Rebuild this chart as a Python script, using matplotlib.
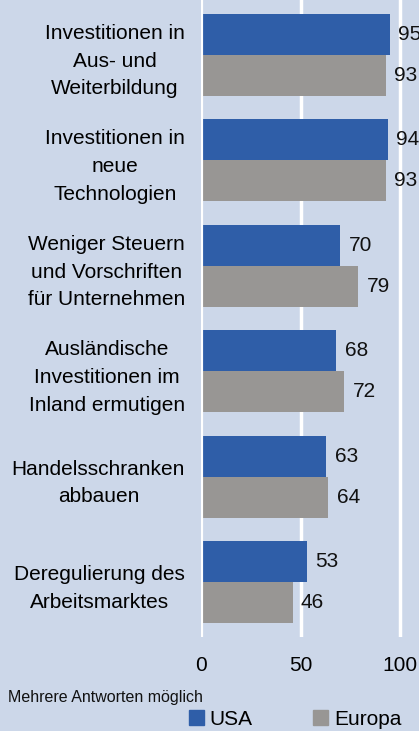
import matplotlib
matplotlib.use("Agg")
import matplotlib.pyplot as plt
from matplotlib.patches import Patch
import numpy as np

categories = [
    "Investitionen in\nAus- und\nWeiterbildung",
    "Investitionen in\nneue\nTechnologien",
    "Weniger Steuern\nund Vorschriften\nfür Unternehmen",
    "Ausländische\nInvestitionen im\nInland ermutigen",
    "Handelsschranken\nabbauen",
    "Deregulierung des\nArbeitsmarktes",
]
usa = [95, 94, 70, 68, 63, 53]
europa = [93, 93, 79, 72, 64, 46]
series_names = ["USA", "Europa"]
xticks = [0, 50, 100]
note = "Mehrere Antworten möglich"

BG = "#ccd7e9"
BLUE = "#2f5ea8"
GRAY = "#989694"
FONT = "Liberation Sans"

plt.rcParams["font.family"] = [FONT, "DejaVu Sans"]

W, H = 419, 731
fig = plt.figure(figsize=(W / 100, H / 100), dpi=100, facecolor=BG)
ax = fig.add_axes([201 / W, 1 - 637 / H, 1 - 201 / W, 637 / H])
ax.set_facecolor(BG)

y = np.arange(len(categories))
bh = 0.389
ax.barh(y - bh / 2, usa, height=bh, color=BLUE, zorder=2)
ax.barh(y + bh / 2, europa, height=bh, color=GRAY, zorder=2)

for yi, v in zip(y, usa):
    ax.annotate(str(v), (v, yi - bh / 2), xytext=(6, 0), textcoords="offset points",
                va="center", ha="left", fontsize=15, color="#111111")
for yi, v in zip(y, europa):
    ax.annotate(str(v), (v, yi + bh / 2), xytext=(6, 0), textcoords="offset points",
                va="center", ha="left", fontsize=15, color="#111111")

ax.set_xlim(0, 109.5)
ax.set_ylim(len(categories) - 0.48, -0.52)

for xv in xticks:
    ax.axvline(xv, color="white", lw=2.5 if xv else 3, zorder=1 if xv else 3)

ax.set_xticks(xticks)
ax.set_xticklabels([str(t) for t in xticks], fontsize=15)
ax.set_yticks(y)
ax.set_yticklabels(categories, fontsize=15, multialignment="center", linespacing=1.58)
ax.tick_params(axis="x", length=0, pad=14)
ax.tick_params(axis="y", length=0, pad=11.5)
for s in ax.spines.values():
    s.set_visible(False)

fig.text(8 / W, 1 - 702 / H, note, fontsize=11.5, va="baseline", ha="left", color="#111111")

handles = [Patch(color=BLUE), Patch(color=GRAY)]
fig.legend(handles, series_names, loc="upper left", bbox_to_anchor=(189 / W, 1 - 710 / H),
           ncol=2, frameon=False, fontsize=15, handlelength=0.7, handleheight=0.7,
           handletextpad=0.3, columnspacing=2.9, borderpad=0, borderaxespad=0)

fig.savefig("out.png", dpi=100, facecolor=BG)
